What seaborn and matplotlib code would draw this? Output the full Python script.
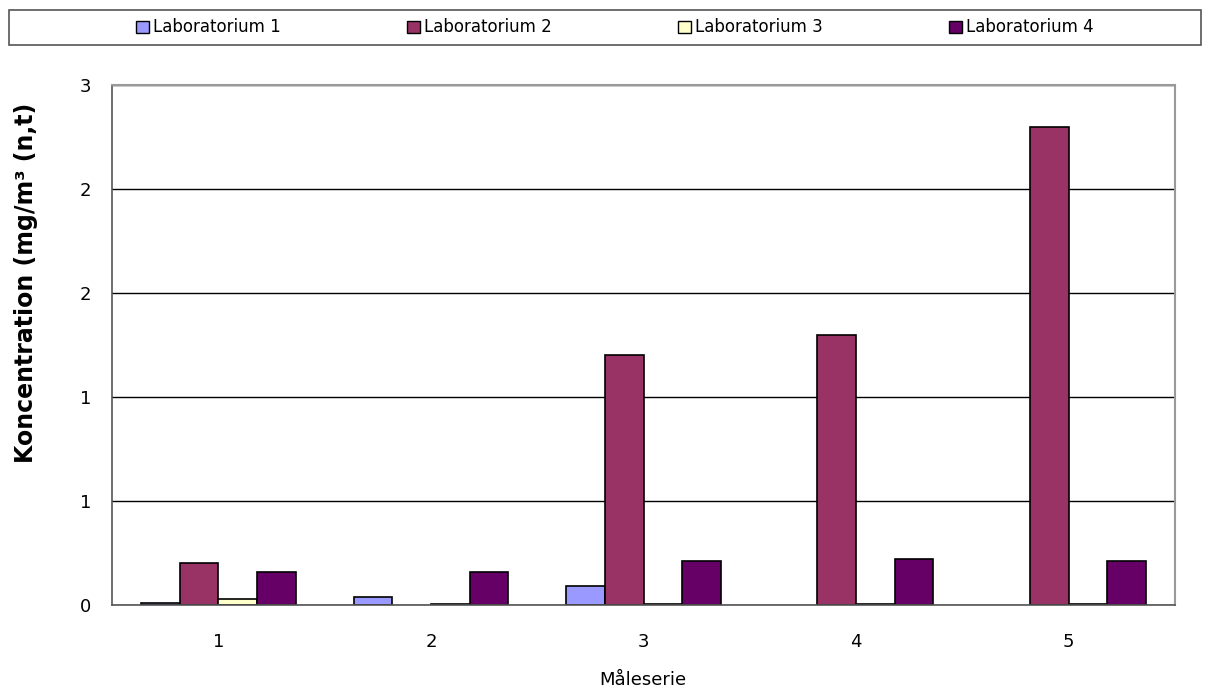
import numpy as np
import pandas as pd
import matplotlib
matplotlib.use("Agg")
import matplotlib.pyplot as plt
import matplotlib.ticker as mticker
from matplotlib.patches import Patch, Rectangle
import seaborn as sns

# data
series = ["1", "2", "3", "4", "5"]
labs = ["Laboratorium 1", "Laboratorium 2", "Laboratorium 3", "Laboratorium 4"]
lab1 = [0.01, 0.04, 0.09, np.nan, np.nan]
lab2 = [0.20, np.nan, 1.20, 1.30, 2.30]
lab3 = [0.03, 0.003, 0.003, 0.003, 0.003]
lab4 = [0.16, 0.16, 0.21, 0.22, 0.21]
colors = ["#9999FF", "#993366", "#FFFFCC", "#660066"]

rows = []
for lab, vals in zip(labs, [lab1, lab2, lab3, lab4]):
    for s, v in zip(series, vals):
        rows.append({"serie": s, "lab": lab, "value": v})
df = pd.DataFrame(rows)

sns.set_style("white")
plt.rcParams["font.family"] = ["DejaVu Sans"]
plt.rcParams["text.color"] = "black"
plt.rcParams["axes.labelcolor"] = "black"
plt.rcParams["xtick.color"] = "black"
plt.rcParams["ytick.color"] = "black"

fig = plt.figure(figsize=(12.11, 6.93), dpi=100)
ax = fig.add_axes([112 / 1211, 88 / 693, 1063 / 1211, 520 / 693])

sns.barplot(data=df, x="serie", y="value", hue="lab", order=series,
            hue_order=labs, palette=colors, saturation=1, width=0.727, gap=0,
            edgecolor="black", linewidth=1.2, legend=False, ax=ax,
            errorbar=None)

ax.set_xlim(-0.5, 4.5)
ax.set_ylim(0, 2.5)
ax.set_yticks(np.arange(0, 2.51, 0.5))
# Excel-style half-up rounding of tick labels
ax.yaxis.set_major_formatter(mticker.FuncFormatter(lambda v, p: "%d" % int(np.floor(v + 0.5 + 1e-9))))
ax.yaxis.grid(True, color="black", linewidth=1)
ax.set_axisbelow(True)

ax.set_xticks(range(5))
ax.set_xticklabels(series)
ax.set_xticks(np.arange(-0.5, 4.6, 1), minor=True)
ax.tick_params(axis="x", which="major", length=0, labelsize=13, pad=20)
ax.tick_params(axis="x", which="minor", length=7, width=1, color="black", direction="out")
ax.tick_params(axis="y", length=7, width=1, color="black", direction="out", labelsize=13, pad=8)

for side in ["top", "right"]:
    ax.spines[side].set_color("#999999")
    ax.spines[side].set_linewidth(1.5)
ax.spines["left"].set_color("#555555")
ax.spines["bottom"].set_color("#555555")
ax.spines["left"].set_linewidth(1.2)
ax.spines["bottom"].set_linewidth(1.2)

ax.set_xlabel("")
ax.set_ylabel("")
fig.text(643 / 1211, 1 - 680 / 693, "Måleserie", fontsize=13, ha="center", va="center")
fig.text(26 / 1211, 1 - 283 / 693, "Koncentration (mg/m³ (n,t)", fontsize=17,
         fontweight="bold", rotation=90, ha="center", va="center")

# legend strip across the top
fig.patches.append(Rectangle((9 / 1211, 1 - 45 / 693), 1192 / 1211, 35 / 693,
                             transform=fig.transFigure, facecolor="none",
                             edgecolor="#555555", linewidth=1.2))
handles = [Patch(facecolor=c, edgecolor="black", linewidth=1) for c in colors]
fig.legend(handles, labs, loc="center", ncol=4,
           bbox_to_anchor=(615 / 1211, 1 - 27.5 / 693),
           fontsize=12, frameon=False, handlelength=0.75, handleheight=0.75,
           handletextpad=0.25, columnspacing=7.6, borderaxespad=0)

fig.savefig("out.png", dpi=100)
